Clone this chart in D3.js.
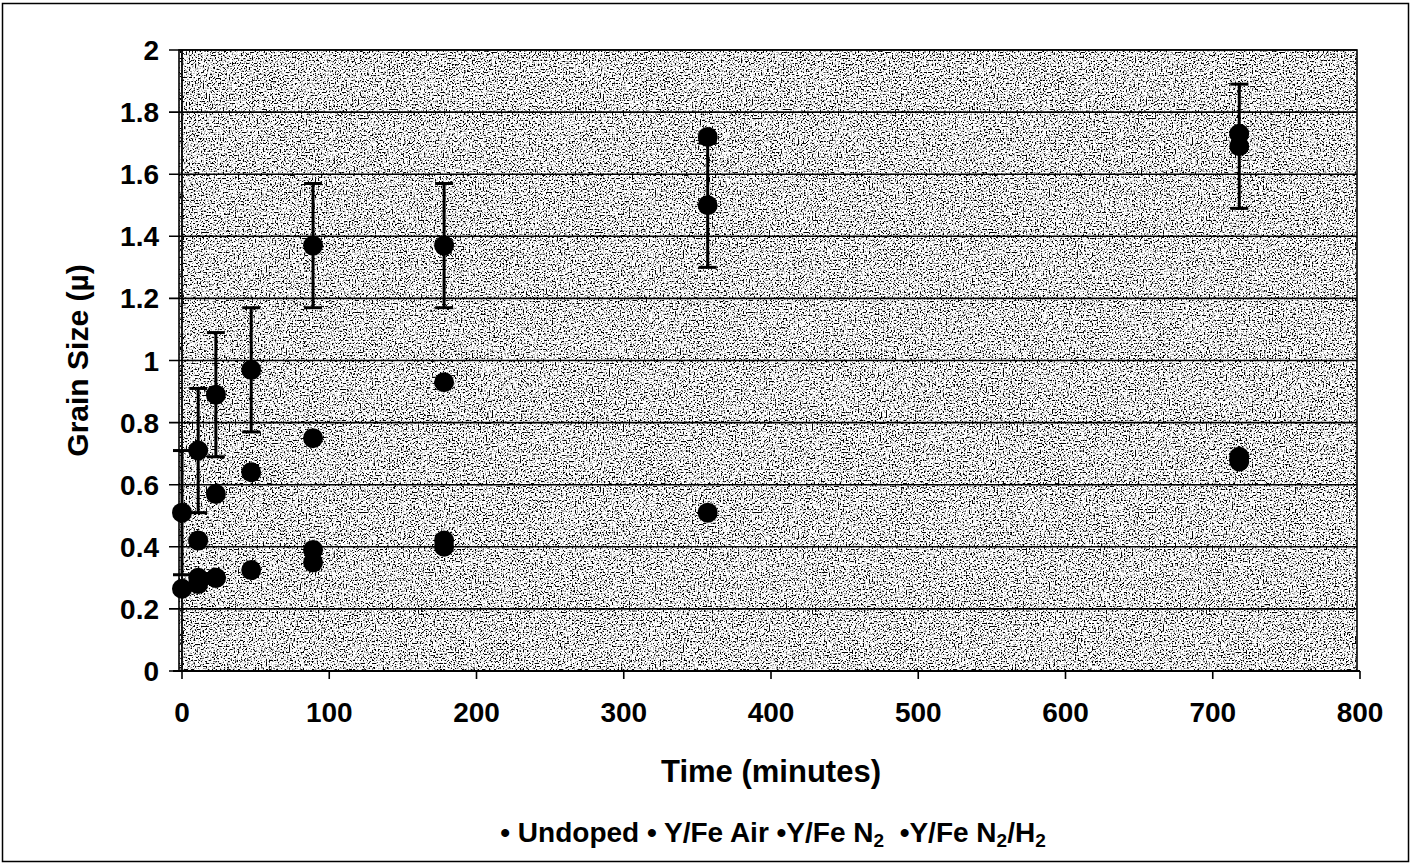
<!DOCTYPE html>
<html>
<head>
<meta charset="utf-8">
<script src="https://cdn.jsdelivr.net/npm/d3@7"></script>
<style>
  html, body { margin: 0; padding: 0; background: #fff; }
  svg { display: block; font-family: "Liberation Sans", Arial, sans-serif; font-weight: bold; }
</style>
</head>
<body>
<svg id="chart" width="1416" height="867"></svg>
<script>
// Annealing time (minutes) for each sample set
const times = [0, 11, 23, 47, 89, 178, 357, 718];

// Grain size (microns) per series; null where no sample was measured
const undoped   = [0.51, 0.71, 0.89, 0.97, 1.37, 1.37, 1.50, 1.69];
const yfeAir    = [0.265, 0.42, 0.57, 0.64, 0.75, 0.93, 1.72, 1.73];
const yfeN2     = [null, 0.30, 0.30, 0.325, 0.39, 0.42, 0.51, 0.69];
const yfeN2H2   = [null, 0.28, 0.30, null, 0.35, 0.40, null, 0.675];

// Error (± microns) on the undoped series
const undopedErr = [0.2, 0.2, 0.2, 0.2, 0.2, 0.2, 0.2, 0.2];

const xTicks = [0, 100, 200, 300, 400, 500, 600, 700, 800];
const yTicks = [0, 0.2, 0.4, 0.6, 0.8, 1, 1.2, 1.4, 1.6, 1.8, 2];

const seriesNames = ["Undoped", "Y/Fe Air", "Y/Fe N2", "Y/Fe N2/H2"];
const seriesValues = [undoped, yfeAir, yfeN2, yfeN2H2];

const svg = d3.select("#chart");

const x = d3.scaleLinear().domain([0, 800]).range([182, 1360]);
const y = d3.scaleLinear().domain([0, 2]).range([671, 50]);

// Outer chart frame
svg.append("rect")
  .attr("x", 2.5).attr("y", 3.5).attr("width", 1406).attr("height", 858)
  .attr("fill", "#fff").attr("stroke", "#000").attr("stroke-width", 1.5);

// Stippled plot-area fill
const defs = svg.append("defs");
const grain = defs.append("filter").attr("id", "grain")
  .attr("x", 0).attr("y", 0).attr("width", 1).attr("height", 1);
grain.append("feTurbulence")
  .attr("type", "fractalNoise").attr("baseFrequency", 0.65)
  .attr("numOctaves", 1).attr("seed", 11).attr("result", "noise");
grain.append("feColorMatrix").attr("in", "noise").attr("type", "matrix")
  .attr("values", "1 0 0 0 0  1 0 0 0 0  1 0 0 0 0  0 0 0 0 1").attr("result", "grey");
const ct = grain.append("feComponentTransfer").attr("in", "grey");
["feFuncR", "feFuncG", "feFuncB"].forEach(f =>
  ct.append(f).attr("type", "linear").attr("slope", 7).attr("intercept", -2.55));

const plotLeft = x(0) - 3, plotRight = x(800) - 3;
svg.append("rect")
  .attr("x", plotLeft).attr("y", y(2))
  .attr("width", plotRight - plotLeft).attr("height", y(0) - y(2))
  .attr("fill", "#999").attr("filter", "url(#grain)");

// Horizontal gridlines (with their tick stubs on the left)
svg.append("g").selectAll("line")
  .data(yTicks)
  .join("line")
  .attr("x1", x(0) - 13).attr("x2", plotRight)
  .attr("y1", d => y(d)).attr("y2", d => y(d))
  .attr("stroke", "#000").attr("stroke-width", 1.6);

// Plot-area frame
svg.append("rect")
  .attr("x", plotLeft).attr("y", y(2))
  .attr("width", plotRight - plotLeft).attr("height", y(0) - y(2))
  .attr("fill", "none").attr("stroke", "#000").attr("stroke-width", 1.6);

// Axes lines
svg.append("line")
  .attr("x1", x(0)).attr("x2", x(0)).attr("y1", y(2)).attr("y2", y(0))
  .attr("stroke", "#000").attr("stroke-width", 1.8);
svg.append("line")
  .attr("x1", x(0) - 9).attr("x2", x(800)).attr("y1", y(0)).attr("y2", y(0))
  .attr("stroke", "#000").attr("stroke-width", 1.8);

// X tick marks and labels
const xAxis = svg.append("g");
xAxis.selectAll("line")
  .data(xTicks)
  .join("line")
  .attr("x1", d => x(d)).attr("x2", d => x(d))
  .attr("y1", y(0)).attr("y2", y(0) + 8)
  .attr("stroke", "#000").attr("stroke-width", 1.6);
xAxis.selectAll("text")
  .data(xTicks)
  .join("text")
  .attr("x", d => x(d)).attr("y", 722)
  .attr("text-anchor", "middle")
  .attr("font-size", 28)
  .text(d => d);

// Y tick labels
svg.append("g").selectAll("text")
  .data(yTicks)
  .join("text")
  .attr("x", 159).attr("y", d => y(d) + 10)
  .attr("text-anchor", "end")
  .attr("font-size", 28)
  .text(d => d3.format("~g")(d));

// Axis titles
svg.append("text")
  .attr("transform", `translate(88,${(y(0) + y(2)) / 2}) rotate(-90)`)
  .attr("text-anchor", "middle")
  .attr("font-size", 30)
  .text("Grain Size (\u00b5)");

svg.append("text")
  .attr("x", (x(0) + x(800)) / 2).attr("y", 782)
  .attr("text-anchor", "middle")
  .attr("font-size", 31)
  .text("Time (minutes)");

// Error bars on the undoped series
const errData = times.map((t, i) => ({ t, v: undoped[i], e: undopedErr[i] }));
const eb = svg.append("g").attr("stroke", "#000").attr("stroke-width", 3);
eb.selectAll("line.stem")
  .data(errData)
  .join("line").attr("class", "stem")
  .attr("x1", d => x(d.t)).attr("x2", d => x(d.t))
  .attr("y1", d => y(d.v - d.e)).attr("y2", d => y(d.v + d.e));
eb.selectAll("line.capHi")
  .data(errData)
  .join("line").attr("class", "capHi")
  .attr("x1", d => x(d.t) - 9).attr("x2", d => x(d.t) + 9)
  .attr("y1", d => y(d.v + d.e)).attr("y2", d => y(d.v + d.e));
eb.selectAll("line.capLo")
  .data(errData)
  .join("line").attr("class", "capLo")
  .attr("x1", d => x(d.t) - 9).attr("x2", d => x(d.t) + 9)
  .attr("y1", d => y(d.v - d.e)).attr("y2", d => y(d.v - d.e));

// Data points, all series drawn as solid black discs
const points = [];
seriesValues.forEach((vals, s) => {
  vals.forEach((v, i) => {
    if (v != null) points.push({ series: seriesNames[s], t: times[i], v });
  });
});
svg.append("g").selectAll("circle")
  .data(points)
  .join("circle")
  .attr("cx", d => x(d.t)).attr("cy", d => y(d.v))
  .attr("r", 10)
  .attr("fill", "#000");

// Legend
const legend = svg.append("text")
  .attr("x", 773).attr("y", 842)
  .attr("text-anchor", "middle")
  .attr("font-size", 28);
legend.append("tspan").text("\u2022 Undoped \u2022 Y/Fe Air \u2022Y/Fe N");
legend.append("tspan").attr("font-size", 19).attr("dy", 5).text("2");
legend.append("tspan").attr("dy", -5).text("\u00a0\u00a0\u2022Y/Fe N");
legend.append("tspan").attr("font-size", 19).attr("dy", 5).text("2");
legend.append("tspan").attr("dy", -5).text("/H");
legend.append("tspan").attr("font-size", 19).attr("dy", 5).text("2");
</script>
</body>
</html>
